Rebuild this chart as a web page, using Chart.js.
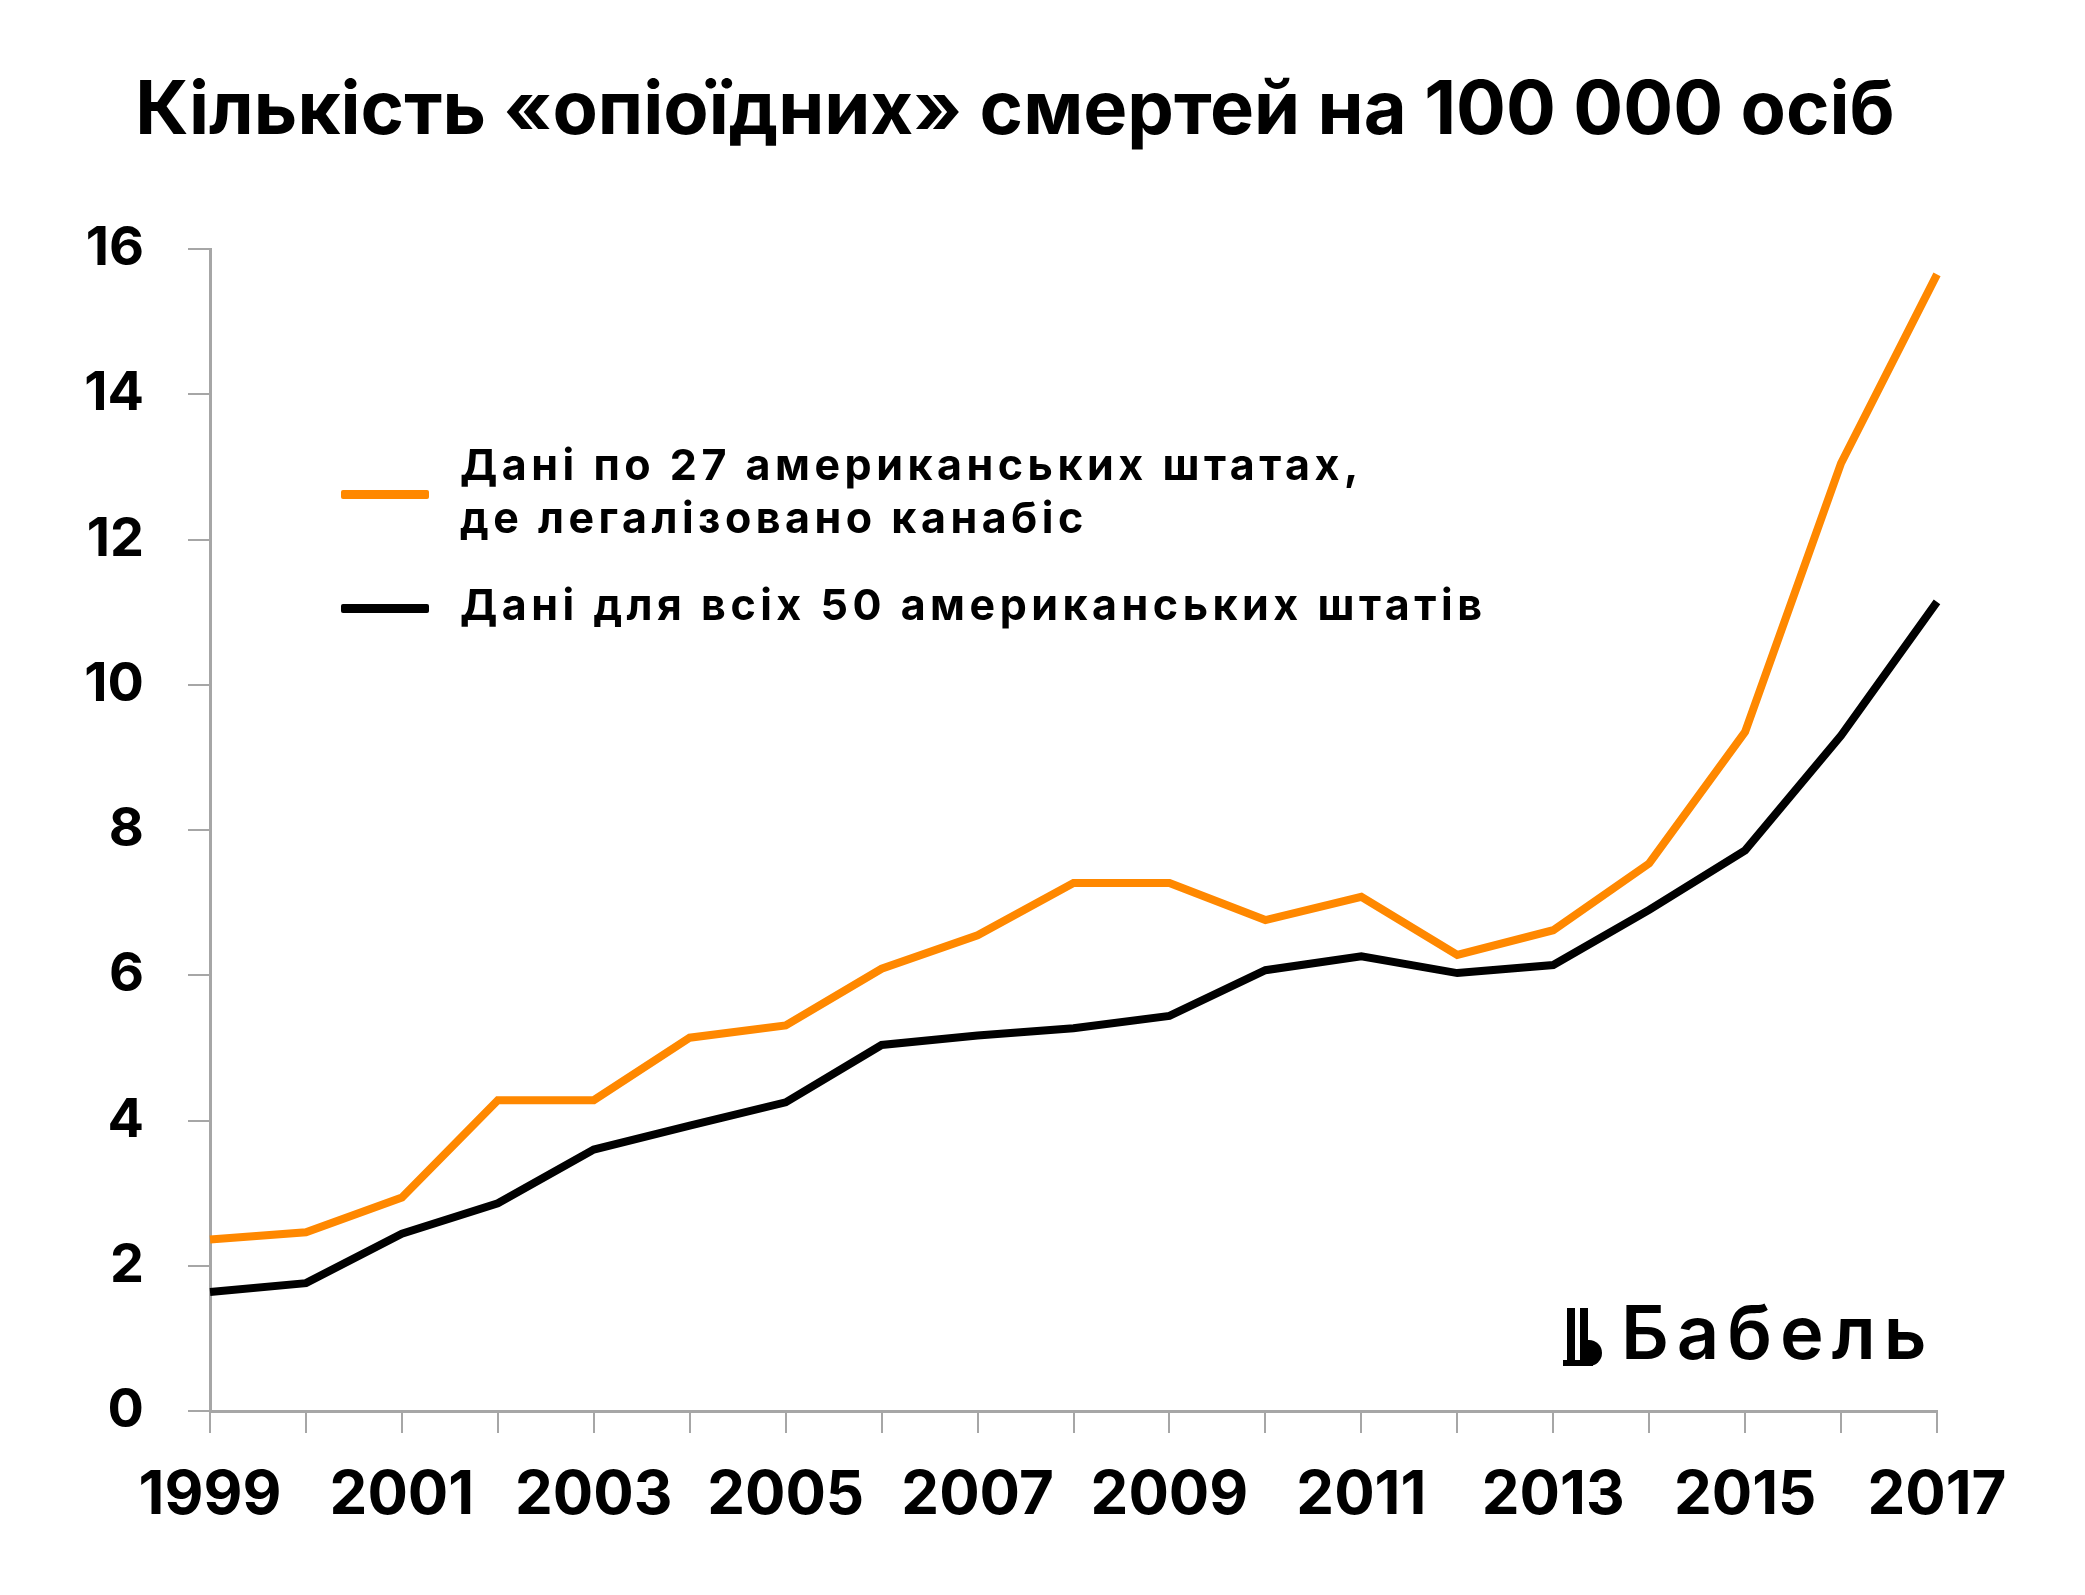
<!DOCTYPE html>
<html lang="uk">
<head>
<meta charset="utf-8">
<title>Кількість «опіоїдних» смертей на 100 000 осіб</title>
<script src="https://cdn.jsdelivr.net/npm/chart.js@4.4.1/dist/chart.umd.min.js"></script>
<style>
  html, body { margin: 0; padding: 0; background: #fff; }
  body { width: 2085px; height: 1595px; position: relative; overflow: hidden; font-family: Inter, "Open Sans", sans-serif; }
  #chart { position: absolute; left: 0; top: 0; }
  .title { position: absolute; left: 0; width: 2030px; top: 62px; text-align: center; font-weight: 700; font-size: 74px; line-height: 90px; color: #000; white-space: nowrap; }
  .legend { position: absolute; left: 341px; color: #000; font-weight: 700; font-size: 43px; line-height: 53px; letter-spacing: 4.5px; }
  .legend .swatch { position: absolute; left: 0; width: 88px; height: 9px; border-radius: 2px; }
  .legend .txt { position: absolute; left: 119px; white-space: nowrap; }
  .logo { position: absolute; left: 1563px; top: 1296px; height: 72px; display: flex; align-items: flex-end; }
  .logo span { font-family: Inter, sans-serif; font-weight: 600; font-size: 74px; line-height: 72px; color: #000; letter-spacing: 8px; margin-left: 14px; }
</style>
</head>
<body>
<canvas id="chart" width="2085" height="1595"></canvas>
<div class="title">Кількість «опіоїдних» смертей на 100 000 осіб</div>

<div class="legend" style="top:438px">
  <div class="swatch" style="top:52px;background:#ff8800"></div>
  <div class="txt" style="top:0">Дані по 27 американських штатах,<br>де легалізовано канабіс</div>
</div>
<div class="legend" style="top:578px">
  <div class="swatch" style="top:26px;background:#000"></div>
  <div class="txt" style="top:0">Дані для всіх 50 американських штатів</div>
</div>

<div class="logo">
  <svg width="44" height="60" viewBox="0 0 44 60">
    <rect x="4" y="0" width="8" height="58" fill="#000"/>
    <rect x="17" y="0" width="8" height="58" fill="#000"/>
    <rect x="0" y="52" width="30" height="6" fill="#000"/>
    <path d="M20 32 h6 a12 12 0 0 1 0 26 h-6 z" fill="#000"/>
  </svg>
  <span>Бабель</span>
</div>

<script>
// роки по осі X
const years = ['1999', '2000', '2001', '2002', '2003', '2004', '2005', '2006', '2007', '2008',
  '2009', '2010', '2011', '2012', '2013', '2014', '2015', '2016', '2017'];

// 27 штатів з легалізованим канабісом
const legalStates = [2.36, 2.46, 2.94, 4.28, 4.28, 5.14, 5.31, 6.09, 6.55, 7.27,
  7.27, 6.76, 7.08, 6.28, 6.62, 7.54, 9.35, 13.05, 15.65];

// всі 50 штатів
const allStates = [1.64, 1.76, 2.44, 2.86, 3.60, 3.93, 4.25, 5.04, 5.17, 5.27,
  5.44, 6.07, 6.26, 6.03, 6.14, 6.90, 7.72, 9.30, 11.14];

// підписи на осі Y
const yTicks = [0, 2, 4, 6, 8, 10, 12, 14, 16];

const axisGrey = '#a6a6a6';
Chart.defaults.font.family = 'Inter, "Open Sans", sans-serif';
Chart.defaults.color = '#000';

new Chart(document.getElementById('chart'), {
  type: 'line',
  data: {
    labels: years,
    datasets: [
      {
        label: 'Дані по 27 американських штатах, де легалізовано канабіс',
        data: legalStates,
        borderColor: '#ff8800',
        borderWidth: 8,
        pointRadius: 0,
        tension: 0
      },
      {
        label: 'Дані для всіх 50 американських штатів',
        data: allStates,
        borderColor: '#000',
        borderWidth: 8,
        pointRadius: 0,
        tension: 0
      }
    ]
  },
  options: {
    responsive: false,
    animation: false,
    layout: { padding: { top: 249, right: 148, left: 0, bottom: 0 } },
    plugins: { legend: { display: false }, tooltip: { enabled: false } },
    scales: {
      x: {
        type: 'category',
        offset: false,
        afterFit: (scale) => { scale.height = 184; },
        grid: { drawOnChartArea: false, drawTicks: true, tickLength: 22, color: axisGrey, lineWidth: 2 },
        border: { color: axisGrey, width: 3 },
        ticks: {
          autoSkip: false,
          maxRotation: 0,
          padding: 27,
          font: { size: 60, weight: 700 },
          callback: function (val, i) { return i % 2 === 0 ? years[i] : ''; }
        }
      },
      y: {
        min: 0,
        max: 16,
        afterFit: (scale) => { scale.width = 210; },
        afterBuildTicks: (scale) => { scale.ticks = yTicks.map(v => ({ value: v })); },
        grid: { drawOnChartArea: false, drawTicks: true, tickLength: 22, color: axisGrey, lineWidth: 2 },
        border: { color: axisGrey, width: 3 },
        ticks: {
          padding: 44,
          font: { size: 54, weight: 700 }
        }
      }
    }
  }
});
</script>
</body>
</html>
